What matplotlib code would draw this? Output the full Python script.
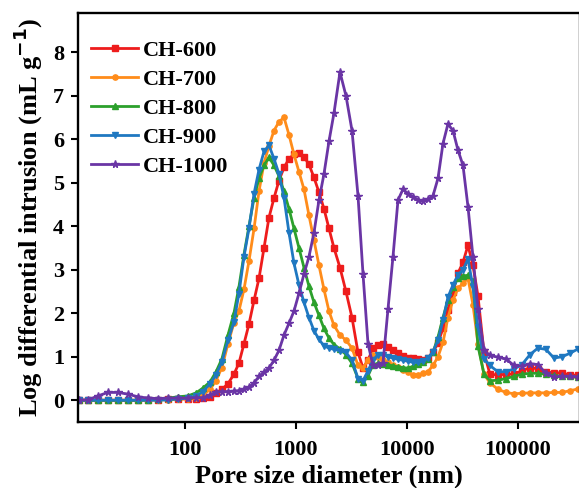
import numpy as np
import matplotlib
matplotlib.use("Agg")
import matplotlib.pyplot as plt
from matplotlib.ticker import FixedLocator, NullLocator

# Pore size grid (nm) shared by all samples
pore_size = [
    11, 13.4, 16.4, 20.2, 24.9, 30.6, 37.7, 46.4, 57.1, 70.3,
    86.5, 106, 126, 145, 168, 190, 215, 244, 276, 306,
    340, 377, 419, 464, 515, 571, 634, 703, 780, 865,
    959, 1064, 1180, 1309, 1452, 1611, 1787, 1982, 2199, 2490,
    2820, 3196, 3620, 4016, 4454, 4940, 5480, 6080, 6745, 7480,
    8300, 9200, 10200, 11330, 12570, 13940, 15460, 17150, 19030, 21100,
    23400, 25960, 28800, 31950, 35440, 39300, 43600, 49400, 55900, 66100,
    78000, 92000, 108700, 128300, 151400, 178700, 211000, 249000, 294000, 347500,
]

# Log differential intrusion (mL/g)
ch600 = [
    0, 0, 0, 0, 0, 0, 0, 0.01, 0.01, 0.02,
    0.03, 0.03, 0.04, 0.05, 0.08, 0.16, 0.25, 0.38, 0.6, 0.85,
    1.3, 1.75, 2.3, 2.8, 3.5, 4.2, 4.65, 5.05, 5.35, 5.55,
    5.65, 5.68, 5.6, 5.42, 5.12, 4.78, 4.4, 3.95, 3.5, 3.05,
    2.5, 1.9, 1.1, 0.74, 0.92, 1.2, 1.27, 1.3, 1.22, 1.15,
    1.08, 1.02, 0.98, 0.97, 0.94, 0.93, 0.97, 1.1, 1.32, 1.65,
    2.07, 2.48, 2.92, 3.17, 3.56, 3.1, 2.4, 1.1, 0.6, 0.58,
    0.6, 0.6, 0.68, 0.75, 0.72, 0.65, 0.63, 0.63, 0.58, 0.57,
]
ch700 = [
    0, 0, 0, 0, 0, 0, 0, 0, 0.01, 0.01,
    0.02, 0.04, 0.06, 0.12, 0.25, 0.45, 0.75, 1.3, 1.78, 2.05,
    2.55, 3.2, 3.95, 4.8, 5.45, 5.85, 6.2, 6.4, 6.5, 6.1,
    5.65, 5.25, 4.85, 4.25, 3.68, 3.1, 2.55, 2.05, 1.72, 1.5,
    1.38, 1.2, 0.8, 0.74, 0.92, 1.05, 1.0, 0.92, 0.87, 0.8,
    0.76, 0.7, 0.64, 0.58, 0.58, 0.62, 0.66, 0.8, 1.0, 1.33,
    1.9, 2.3, 2.57, 2.69, 2.8, 2.2, 1.3, 0.6, 0.4, 0.25,
    0.18, 0.15, 0.16, 0.17, 0.17, 0.17, 0.18, 0.18, 0.22, 0.26,
]
ch800 = [
    0, 0, 0, 0, 0, 0, 0, 0.01, 0.02, 0.05,
    0.08, 0.1, 0.17, 0.28, 0.42, 0.65, 0.95, 1.5, 2.0, 2.6,
    3.35, 4.0, 4.65, 5.1, 5.4, 5.58, 5.4, 5.15, 4.8, 4.4,
    3.95, 3.5, 3.05, 2.62, 2.25, 1.95, 1.65, 1.43, 1.28, 1.18,
    1.05, 0.85, 0.5, 0.42, 0.56, 0.82, 0.85, 0.84, 0.82, 0.79,
    0.77, 0.75, 0.74, 0.78, 0.84, 0.88, 0.95, 1.1, 1.45, 1.9,
    2.3, 2.6, 2.8, 2.86, 2.87, 2.75, 1.25, 0.6, 0.45, 0.46,
    0.5, 0.55, 0.6, 0.62, 0.62, 0.6, 0.57, 0.55, 0.55, 0.53,
]
ch900 = [
    0, 0, 0, 0, 0, 0, 0, 0, 0, 0.01,
    0.03, 0.05, 0.1, 0.2, 0.38, 0.58, 0.88, 1.38, 1.8, 2.45,
    3.3, 3.95, 4.75, 5.3, 5.72, 5.86, 5.55, 5.2, 4.65, 3.85,
    3.15, 2.65, 2.25, 1.9, 1.6, 1.4, 1.25, 1.2, 1.17, 1.14,
    1.1, 0.92, 0.5, 0.45, 0.68, 0.92, 1.05, 1.04, 1.0, 0.97,
    0.94, 0.92, 0.9, 0.87, 0.87, 0.9, 0.97, 1.12, 1.38, 1.84,
    2.37, 2.65, 2.88, 3.0, 3.25, 2.6, 1.68, 0.95, 0.8, 0.65,
    0.66, 0.72, 0.82, 1.05, 1.2, 1.17, 0.97, 1.0, 1.08, 1.18,
]
ch1000 = [
    0, 0.01, 0.1, 0.18, 0.18, 0.14, 0.08, 0.05, 0.04, 0.05,
    0.05, 0.05, 0.06, 0.06, 0.12, 0.19, 0.2, 0.2, 0.21, 0.22,
    0.25, 0.3, 0.4, 0.55, 0.64, 0.74, 0.92, 1.15, 1.5, 1.77,
    2.05, 2.46, 2.9, 3.3, 3.85, 4.6, 5.2, 5.95, 6.6, 7.54,
    7.0, 6.2, 4.7, 2.9, 1.3, 0.8, 0.82, 0.86, 2.1, 3.3,
    4.6, 4.85, 4.75, 4.67, 4.6, 4.57, 4.62, 4.7, 5.1, 5.9,
    6.35, 6.2, 5.75, 5.4, 4.45, 3.3, 2.1, 1.15, 1.03, 0.99,
    0.95, 0.8, 0.78, 0.84, 0.82, 0.62, 0.53, 0.55, 0.55, 0.53,
]

labels = ["CH-600", "CH-700", "CH-800", "CH-900", "CH-1000"]
colors = ["#ee1c1c", "#ff8c1a", "#2ca02c", "#1f78c1", "#6a35a5"]
markers = ["s", "o", "^", "v", "*"]
series = [ch600, ch700, ch800, ch900, ch1000]

plt.rcParams["font.family"] = ["Liberation Serif", "DejaVu Serif"]
plt.rcParams["font.weight"] = "bold"

fig = plt.figure(figsize=(5.79, 4.88), dpi=100)
ax = fig.add_axes([0.1347, 0.1352, 0.8670, 0.8381])

for y, lab, c, m in zip(series, labels, colors, markers):
    ms = 5.5 if m == "*" else 3.8
    ax.plot(pore_size, y, color=c, marker=m, markersize=ms, linewidth=2.0,
            label=lab)

ax.set_xscale("log")
ax.set_xlim(10.86, 362000)
ax.set_ylim(-0.5, 8.9)

ax.xaxis.set_major_locator(FixedLocator([100, 1000, 10000, 100000]))
ax.xaxis.set_minor_locator(NullLocator())
ax.set_xticklabels(["100", "1000", "10000", "100000"])
ax.set_yticks(range(0, 9))

ax.tick_params(axis="both", direction="out", length=5, width=1.5,
               labelsize=16)
ax.tick_params(axis="x", pad=8)
ax.tick_params(axis="y", pad=5)
for lbl in ax.get_xticklabels() + ax.get_yticklabels():
    lbl.set_fontweight("bold")
for sp in ax.spines.values():
    sp.set_linewidth(1.7)

ax.set_xlabel("Pore size diameter (nm)", fontsize=19, fontweight="bold",
              labelpad=3)
ax.set_ylabel("Log differential intrusion (mL g$^{\\mathbf{-1}}$)",
              fontsize=19, fontweight="bold", labelpad=6)

leg = ax.legend(loc="upper left", bbox_to_anchor=(0.0, 0.965), frameon=False,
                fontsize=16, handlelength=2.1, handletextpad=0.2,
                labelspacing=0.38, borderaxespad=0.2)
for t in leg.get_texts():
    t.set_fontweight("bold")

fig.savefig("out.png", dpi=100)
